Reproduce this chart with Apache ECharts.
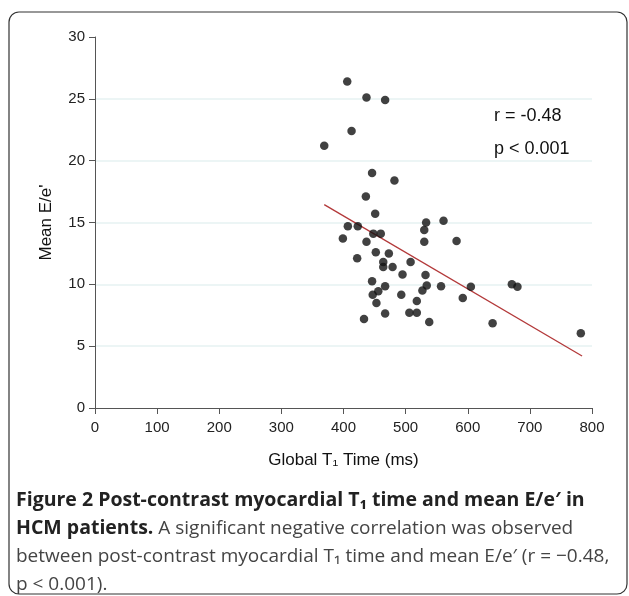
<!DOCTYPE html>
<html><head><meta charset="utf-8">
<script src="https://cdn.jsdelivr.net/npm/echarts@6/dist/echarts.min.js"></script>
<style>html,body{margin:0;padding:0;background:#fff;}#c{width:629px;height:596px;}</style>
</head><body><div id="c"></div>
<script>
// Global T1 time (ms) and mean E/e'
const t1Time = [406,437,467,413,369,446,482,436,451,407,423,533,561,530,399,448,460,437,530,582,452,473,422,508,464,464,479,495,532,446,467,534,557,605,456,447,527,493,592,518,453,467,506,518,433,538,640,671,680,782];
const meanEe = [26.4,25.1,24.9,22.4,21.2,19.0,18.4,17.1,15.7,14.7,14.7,15.0,15.15,14.4,13.7,14.1,14.1,13.45,13.45,13.5,12.6,12.5,12.1,11.8,11.8,11.4,11.4,10.8,10.75,10.25,9.85,9.9,9.85,9.8,9.45,9.15,9.5,9.15,8.9,8.65,8.5,7.65,7.7,7.7,7.2,6.95,6.85,10.0,9.8,6.05];
const fitX = [369, 784];
const fitY = [16.45, 4.2];
const xTicks = {min:0, max:800, interval:100};
const yTicks = {min:0, max:30, interval:5};
const statR = 'r = -0.48';
const statP = 'p < 0.001';
const captionLines = [
  '{b|Figure 2 Post-contrast myocardial T₁ time and mean E/e′ in}',
  '{b|HCM patients.} A significant negative correlation was observed',
  'between post-contrast myocardial T₁ time and mean E/e′ (r = −0.48,',
  'p < 0.001).'
];

const chart = echarts.init(document.getElementById('c'));
const pts = t1Time.map((x,i)=>[x, meanEe[i]]);
const fit = fitX.map((x,i)=>[x, fitY[i]]);
const axisFont = 'Liberation Sans, Arial, sans-serif';
const capFont = 'Open Sans, sans-serif';
const graphics = [
  {type:'rect', shape:{x:9,y:12,width:618,height:582,r:10}, style:{fill:'none',stroke:'#333',lineWidth:1.2}, silent:true},
  {type:'text', left:494, top:107, style:{text:statR, font:'18px '+axisFont, fill:'#111'}},
  {type:'text', left:494, top:140, style:{text:statP, font:'18px '+axisFont, fill:'#111'}}
];
captionLines.forEach((t,i)=>{
  graphics.push({type:'text', left:16, top:490+i*28.5, style:{
    text:t, fontFamily:capFont, fontSize:19, fill:'#444',
    rich:{b:{fontFamily:capFont, fontSize:19.5, fontWeight:'bold', fill:'#222'}}
  }});
});
chart.setOption({
  animation:false,
  backgroundColor:'#fff',
  grid:{left:95, right:37, top:37, bottom:188},
  xAxis:{type:'value', min:xTicks.min, max:xTicks.max, interval:xTicks.interval,
    name:'Global T₁ Time (ms)', nameLocation:'middle', nameGap:44,
    nameTextStyle:{fontFamily:axisFont, fontSize:17, color:'#111'},
    axisLine:{show:true, onZero:false, lineStyle:{color:'#555'}},
    axisTick:{show:true, length:6, lineStyle:{color:'#555'}},
    axisLabel:{fontFamily:axisFont, fontSize:15, color:'#222', margin:12},
    splitLine:{show:false}},
  yAxis:{type:'value', min:yTicks.min, max:yTicks.max, interval:yTicks.interval,
    name:'Mean E/e\'', nameLocation:'middle', nameGap:40,
    nameTextStyle:{fontFamily:axisFont, fontSize:17, color:'#111'},
    axisLine:{show:true, onZero:false, lineStyle:{color:'#555'}},
    axisTick:{show:true, length:6, lineStyle:{color:'#555'}},
    axisLabel:{fontFamily:axisFont, fontSize:15, color:'#222', margin:10},
    splitLine:{show:true, showMinLine:false, showMaxLine:false, lineStyle:{color:'#e6f2f2', width:1.5}}},
  series:[
    {type:'line', data:fit, symbol:'none', lineStyle:{color:'#b3393a', width:1.3}, z:1},
    {type:'scatter', data:pts, symbolSize:8.5, itemStyle:{color:'#111'}, z:2}
  ],
  graphic:graphics
});
</script></body></html>
